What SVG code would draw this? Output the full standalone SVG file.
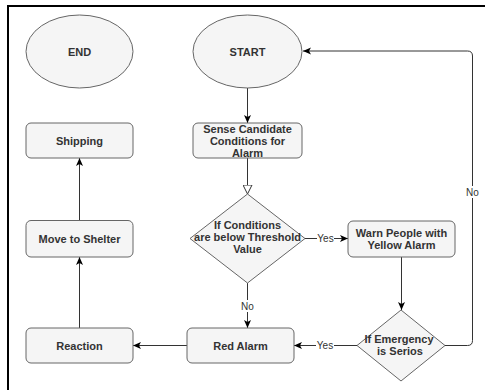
<svg xmlns="http://www.w3.org/2000/svg" width="485" height="390" viewBox="0 0 485 390">
<defs>
<style>
.shape{fill:#f5f5f5;stroke:#666;stroke-width:1}
.t{font-family:"Liberation Sans",Arial,sans-serif;font-size:11px;font-weight:bold;fill:#333;text-anchor:middle}
.lbl{font-family:"Liberation Sans",Arial,sans-serif;font-size:10px;fill:#333;text-anchor:middle}
.edge{fill:none;stroke:#333;stroke-width:1}
.lblbg{fill:#fff}
</style>
<marker id="arr" viewBox="0 0 8 8" refX="8" refY="4" markerWidth="8" markerHeight="8" markerUnits="userSpaceOnUse" orient="auto">
<path d="M0,0.5 L8,4 L0,7.5 L2,4 Z" fill="#000"/>
</marker>
<marker id="open" viewBox="0 0 10 10" refX="9.5" refY="5" markerWidth="10" markerHeight="10" markerUnits="userSpaceOnUse" orient="auto">
<path d="M0.5,0.5 L9.5,5 L0.5,9.5 Z" fill="#fff" stroke="#333" stroke-width="1"/>
</marker>
</defs>
<rect width="485" height="390" fill="#fff"/>
<path d="M8,390 V6 H485" fill="none" stroke="#000" stroke-width="2"/>

<g id="connectors">
<path class="edge" d="M247.5,88 V123" marker-end="url(#arr)"/>
<path class="edge" d="M247.5,158 V194" marker-end="url(#open)"/>
<path class="edge" d="M305,238.5 H348" marker-end="url(#arr)"/>
<path class="edge" d="M401.5,257 V310" marker-end="url(#arr)"/>
<path class="edge" d="M247.5,283 V328" marker-end="url(#arr)"/>
<path class="edge" d="M357,345.5 H294" marker-end="url(#arr)"/>
<path class="edge" d="M187,345.5 H133" marker-end="url(#arr)"/>
<path class="edge" d="M79.5,328 V257" marker-end="url(#arr)"/>
<path class="edge" d="M79.5,220 V158" marker-end="url(#arr)"/>
<path class="edge" d="M445,345.5 H467.5 Q472.5,345.5 472.5,340.5 V56 Q472.5,51 467.5,51 H303" marker-end="url(#arr)"/>
<rect class="lblbg" x="317" y="232" width="17" height="12"/>
<text class="lbl" x="325.5" y="241.5">Yes</text>
<rect class="lblbg" x="240" y="300" width="15" height="12"/>
<text class="lbl" x="247.5" y="309.5">No</text>
<rect class="lblbg" x="316" y="339.5" width="18" height="12"/>
<text class="lbl" x="325" y="349">Yes</text>
<rect class="lblbg" x="465" y="186" width="15" height="12"/>
<text class="lbl" x="472.5" y="195.5">No</text>
</g>

<g id="end">
<ellipse class="shape" cx="79.5" cy="51.5" rx="53.5" ry="36.5"/>
<text class="t" x="79.5" y="55.5">END</text>
</g>
<g id="start">
<ellipse class="shape" cx="247.5" cy="51.5" rx="54.5" ry="36.5"/>
<text class="t" x="247.5" y="55.5">START</text>
</g>
<g id="sense">
<rect class="shape" x="193" y="123" width="109" height="35" rx="5"/>
<text class="t" x="247.5" y="133">Sense Candidate</text>
<text class="t" x="247.5" y="145">Conditions for</text>
<text class="t" x="247.5" y="156.5">Alarm</text>
</g>
<g id="shipping">
<rect class="shape" x="26" y="123" width="107" height="35" rx="5"/>
<text class="t" x="79.5" y="144.5">Shipping</text>
</g>
<g id="move">
<rect class="shape" x="26" y="220.5" width="107" height="36.5" rx="5"/>
<text class="t" x="79.5" y="242.5">Move to Shelter</text>
</g>
<g id="cond">
<polygon class="shape" points="247.5,194 305,238.5 247.5,283 190,238.5"/>
<text class="t" x="247.5" y="229">If Conditions</text>
<text class="t" x="247.5" y="241">are below Threshold</text>
<text class="t" x="247.5" y="253">Value</text>
</g>
<g id="warn">
<rect class="shape" x="348" y="221" width="107" height="36" rx="5"/>
<text class="t" x="401.5" y="237">Warn People with</text>
<text class="t" x="401.5" y="249">Yellow Alarm</text>
</g>
<g id="emergency">
<polygon class="shape" points="401,310 445,345.5 401,381 357,345.5"/>
<text class="t" x="399" y="343">If Emergency</text>
<text class="t" x="400" y="355">is Serios</text>
</g>
<g id="red">
<rect class="shape" x="187" y="328" width="107" height="35" rx="5"/>
<text class="t" x="240.5" y="349.5">Red Alarm</text>
</g>
<g id="reaction">
<rect class="shape" x="26" y="328" width="107" height="35" rx="5"/>
<text class="t" x="79.5" y="349.5">Reaction</text>
</g>
</svg>
